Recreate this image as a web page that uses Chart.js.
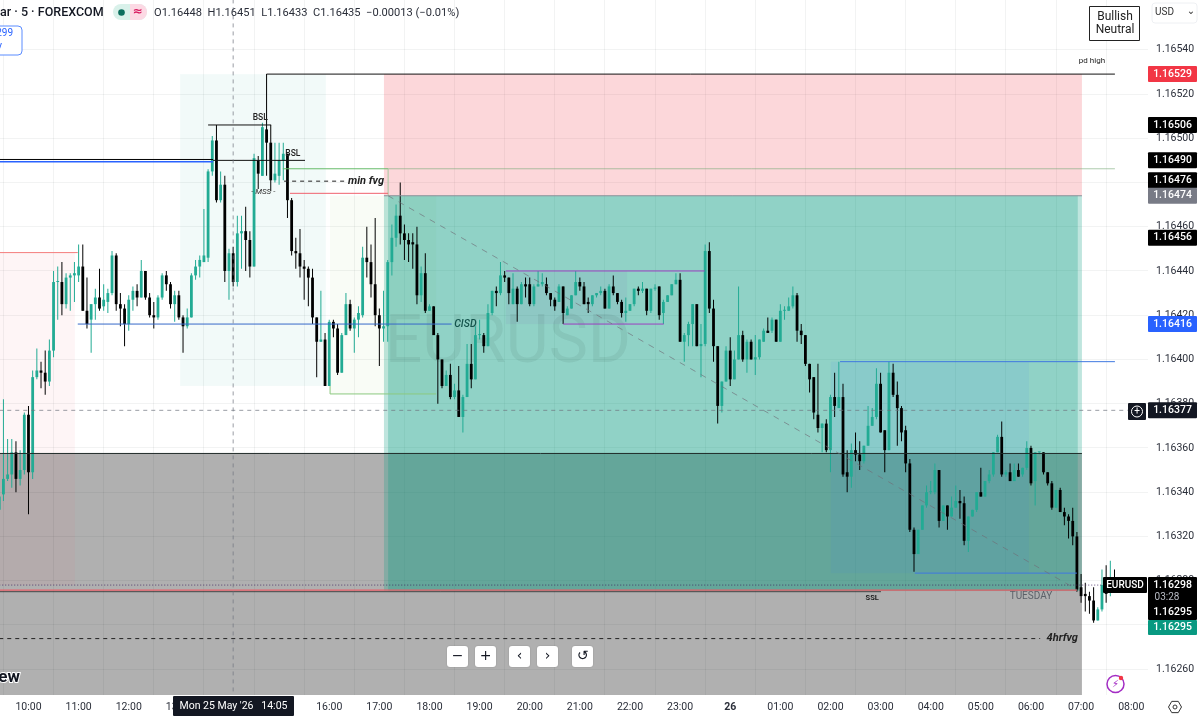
<!DOCTYPE html>
<html>
<head>
<meta charset="utf-8">
<title>EURUSD 5m</title>
<script src="https://cdn.jsdelivr.net/npm/chart.js@4/dist/chart.umd.min.js"></script>
<style>
  html, body { margin: 0; background: #fff; overflow: hidden; }
  canvas { display: block; }
</style>
</head>
<body>
<canvas id="fxChart" width="1200" height="717"></canvas>
<script>
// Bars are numbered from 10:00 on Mon 25 May (bar 0), one bar per 5 minutes
const firstBar = -7;

const opens = [
  1.16332,1.16339,1.16346,1.16348,1.16358,1.16346,1.16350,1.16375,1.16349,1.16392,
  1.16395,1.16394,1.16390,1.16404,1.16435,1.16435,1.16425,1.16437,1.16438,1.16438,
  1.16442,1.16422,1.16418,1.16425,1.16428,1.16424,1.16426,1.16430,1.16447,1.16425,
  1.16423,1.16416,1.16427,1.16431,1.16428,1.16440,1.16428,1.16420,1.16419,1.16428,
  1.16438,1.16434,1.16425,1.16429,1.16419,1.16415,1.16419,1.16438,1.16442,1.16444,
  1.16446,1.16485,1.16499,1.16472,1.16479,1.16440,1.16448,1.16435,1.16457,1.16458,
  1.16454,1.16442,1.16490,1.16483,1.16504,1.16498,1.16481,1.16483,1.16490,1.16493,
  1.16472,1.16449,1.16448,1.16442,1.16441,1.16437,1.16419,1.16408,1.16409,1.16388,
  1.16417,1.16414,1.16394,1.16411,1.16425,1.16414,1.16418,1.16420,1.16446,1.16444,
  1.16434,1.16420,1.16414,1.16415,1.16444,1.16455,1.16465,1.16457,1.16454,1.16453,
  1.16452,1.16429,1.16439,1.16422,1.16424,1.16411,1.16400,1.16388,1.16393,1.16383,
  1.16386,1.16374,1.16383,1.16398,1.16391,1.16411,1.16411,1.16406,1.16421,1.16431,
  1.16430,1.16438,1.16437,1.16425,1.16432,1.16425,1.16434,1.16434,1.16425,1.16433,
  1.16434,1.16434,1.16430,1.16427,1.16426,1.16433,1.16420,1.16423,1.16429,1.16435,
  1.16433,1.16426,1.16425,1.16429,1.16430,1.16431,1.16423,1.16433,1.16430,1.16426,
  1.16421,1.16422,1.16425,1.16432,1.16431,1.16432,1.16422,1.16432,1.16433,1.16421,
  1.16426,1.16429,1.16434,1.16436,1.16408,1.16411,1.16416,1.16425,1.16406,1.16407,
  1.16449,1.16423,1.16406,1.16379,1.16390,1.16404,1.16391,1.16400,1.16411,1.16400,
  1.16408,1.16400,1.16401,1.16408,1.16413,1.16413,1.16418,1.16408,1.16422,1.16422,
  1.16424,1.16429,1.16413,1.16411,1.16398,1.16392,1.16375,1.16369,1.16371,1.16359,
  1.16383,1.16378,1.16383,1.16349,1.16347,1.16359,1.16357,1.16354,1.16361,1.16370,
  1.16374,1.16389,1.16368,1.16359,1.16394,1.16384,1.16378,1.16368,1.16353,1.16323,
  1.16312,1.16323,1.16334,1.16340,1.16340,1.16350,1.16327,1.16334,1.16329,1.16333,
  1.16336,1.16335,1.16318,1.16329,1.16332,1.16340,1.16338,1.16345,1.16348,1.16358,
  1.16365,1.16348,1.16349,1.16345,1.16350,1.16348,1.16351,1.16360,1.16345,1.16358,
  1.16358,1.16349,1.16344,1.16333,1.16341,1.16331,1.16329,1.16327,1.16320,1.16297,
  1.16294,1.16293,1.16291,1.16282,1.16287,1.16299,1.16297,1.16301
];
const highs = [
  1.16339,1.16382,1.16364,1.16364,1.16363,1.16359,1.16376,1.16379,1.16395,1.16405,
  1.16399,1.16404,1.16409,1.16440,1.16442,1.16444,1.16439,1.16439,1.16444,1.16452,
  1.16452,1.16437,1.16425,1.16432,1.16441,1.16434,1.16432,1.16449,1.16448,1.16430,
  1.16425,1.16429,1.16433,1.16434,1.16445,1.16440,1.16430,1.16426,1.16429,1.16439,
  1.16440,1.16435,1.16431,1.16431,1.16420,1.16423,1.16439,1.16445,1.16447,1.16468,
  1.16486,1.16501,1.16506,1.16485,1.16483,1.16450,1.16451,1.16465,1.16465,1.16469,
  1.16458,1.16493,1.16492,1.16507,1.16529,1.16506,1.16498,1.16498,1.16498,1.16493,
  1.16473,1.16455,1.16459,1.16445,1.16442,1.16441,1.16419,1.16431,1.16412,1.16418,
  1.16418,1.16416,1.16412,1.16430,1.16427,1.16419,1.16424,1.16451,1.16460,1.16452,
  1.16464,1.16423,1.16431,1.16445,1.16461,1.16470,1.16480,1.16461,1.16457,1.16457,
  1.16460,1.16442,1.16448,1.16425,1.16424,1.16412,1.16400,1.16395,1.16398,1.16389,
  1.16397,1.16384,1.16407,1.16407,1.16415,1.16418,1.16412,1.16425,1.16431,1.16433,
  1.16444,1.16440,1.16437,1.16439,1.16433,1.16435,1.16437,1.16437,1.16434,1.16440,
  1.16439,1.16437,1.16430,1.16428,1.16434,1.16433,1.16424,1.16429,1.16440,1.16437,
  1.16435,1.16428,1.16429,1.16430,1.16433,1.16432,1.16434,1.16438,1.16430,1.16427,
  1.16428,1.16425,1.16432,1.16433,1.16435,1.16432,1.16432,1.16434,1.16433,1.16427,
  1.16429,1.16434,1.16439,1.16439,1.16412,1.16417,1.16425,1.16425,1.16416,1.16452,
  1.16453,1.16427,1.16406,1.16390,1.16406,1.16410,1.16404,1.16433,1.16413,1.16409,
  1.16409,1.16411,1.16409,1.16414,1.16419,1.16419,1.16418,1.16425,1.16424,1.16428,
  1.16433,1.16430,1.16416,1.16411,1.16398,1.16392,1.16398,1.16371,1.16373,1.16384,
  1.16394,1.16399,1.16389,1.16359,1.16362,1.16367,1.16363,1.16361,1.16379,1.16378,
  1.16396,1.16394,1.16368,1.16399,1.16398,1.16390,1.16379,1.16370,1.16355,1.16324,
  1.16323,1.16334,1.16343,1.16345,1.16353,1.16350,1.16334,1.16334,1.16338,1.16343,
  1.16341,1.16338,1.16329,1.16332,1.16340,1.16351,1.16345,1.16350,1.16358,1.16366,
  1.16372,1.16350,1.16353,1.16353,1.16353,1.16351,1.16363,1.16361,1.16358,1.16358,
  1.16358,1.16349,1.16345,1.16341,1.16342,1.16333,1.16330,1.16333,1.16322,1.16303,
  1.16299,1.16295,1.16297,1.16288,1.16305,1.16307,1.16309,1.16305
];
const lows = [
  1.16331,1.16336,1.16345,1.16342,1.16340,1.16343,1.16348,1.16330,1.16346,1.16391,
  1.16387,1.16384,1.16388,1.16401,1.16418,1.16420,1.16423,1.16422,1.16426,1.16435,
  1.16422,1.16414,1.16403,1.16418,1.16422,1.16422,1.16421,1.16429,1.16422,1.16415,
  1.16406,1.16413,1.16422,1.16424,1.16428,1.16427,1.16419,1.16414,1.16418,1.16427,
  1.16431,1.16423,1.16417,1.16418,1.16403,1.16414,1.16419,1.16436,1.16437,1.16444,
  1.16444,1.16483,1.16471,1.16471,1.16435,1.16427,1.16433,1.16433,1.16441,1.16440,
  1.16437,1.16442,1.16477,1.16483,1.16483,1.16476,1.16480,1.16479,1.16481,1.16464,
  1.16447,1.16441,1.16437,1.16427,1.16424,1.16416,1.16392,1.16408,1.16388,1.16388,
  1.16410,1.16393,1.16394,1.16411,1.16413,1.16403,1.16410,1.16419,1.16437,1.16428,
  1.16415,1.16397,1.16408,1.16408,1.16438,1.16451,1.16452,1.16445,1.16444,1.16441,
  1.16425,1.16426,1.16421,1.16422,1.16411,1.16380,1.16387,1.16388,1.16382,1.16382,
  1.16374,1.16367,1.16383,1.16387,1.16391,1.16409,1.16403,1.16406,1.16420,1.16424,
  1.16429,1.16435,1.16425,1.16425,1.16417,1.16425,1.16428,1.16424,1.16424,1.16433,
  1.16433,1.16429,1.16424,1.16422,1.16426,1.16416,1.16420,1.16423,1.16429,1.16431,
  1.16425,1.16421,1.16424,1.16428,1.16429,1.16423,1.16423,1.16429,1.16425,1.16419,
  1.16417,1.16422,1.16424,1.16429,1.16430,1.16420,1.16421,1.16431,1.16418,1.16416,
  1.16426,1.16429,1.16434,1.16408,1.16399,1.16406,1.16406,1.16406,1.16392,1.16406,
  1.16421,1.16399,1.16371,1.16376,1.16390,1.16388,1.16391,1.16400,1.16399,1.16394,
  1.16400,1.16393,1.16400,1.16408,1.16412,1.16412,1.16408,1.16408,1.16418,1.16422,
  1.16423,1.16408,1.16407,1.16397,1.16385,1.16373,1.16367,1.16358,1.16358,1.16349,
  1.16374,1.16378,1.16347,1.16340,1.16342,1.16354,1.16350,1.16353,1.16361,1.16370,
  1.16373,1.16367,1.16349,1.16359,1.16383,1.16361,1.16363,1.16349,1.16322,1.16304,
  1.16312,1.16323,1.16333,1.16339,1.16339,1.16324,1.16327,1.16323,1.16329,1.16333,
  1.16328,1.16316,1.16313,1.16329,1.16331,1.16338,1.16338,1.16344,1.16347,1.16358,
  1.16347,1.16347,1.16345,1.16345,1.16347,1.16347,1.16350,1.16343,1.16334,1.16357,
  1.16348,1.16343,1.16332,1.16333,1.16331,1.16325,1.16319,1.16316,1.16295,1.16290,
  1.16286,1.16285,1.16281,1.16282,1.16286,1.16290,1.16293,1.16296
];
const closes = [
  1.16338,1.16346,1.16348,1.16358,1.16346,1.16350,1.16375,1.16349,1.16392,1.16395,
  1.16394,1.16390,1.16404,1.16435,1.16435,1.16425,1.16437,1.16438,1.16439,1.16442,
  1.16422,1.16416,1.16425,1.16428,1.16423,1.16427,1.16430,1.16447,1.16425,1.16423,
  1.16416,1.16427,1.16431,1.16428,1.16440,1.16428,1.16420,1.16419,1.16428,1.16438,
  1.16434,1.16425,1.16429,1.16419,1.16415,1.16419,1.16438,1.16442,1.16445,1.16447,
  1.16485,1.16499,1.16472,1.16479,1.16440,1.16448,1.16435,1.16457,1.16458,1.16454,
  1.16442,1.16491,1.16484,1.16505,1.16498,1.16481,1.16484,1.16490,1.16493,1.16472,
  1.16449,1.16448,1.16442,1.16441,1.16437,1.16419,1.16408,1.16409,1.16388,1.16417,
  1.16414,1.16394,1.16411,1.16425,1.16414,1.16418,1.16421,1.16446,1.16444,1.16434,
  1.16420,1.16414,1.16415,1.16444,1.16455,1.16465,1.16457,1.16454,1.16452,1.16452,
  1.16429,1.16439,1.16422,1.16424,1.16411,1.16400,1.16388,1.16393,1.16383,1.16386,
  1.16374,1.16383,1.16398,1.16391,1.16411,1.16411,1.16406,1.16421,1.16431,1.16430,
  1.16438,1.16437,1.16430,1.16432,1.16425,1.16434,1.16433,1.16425,1.16433,1.16434,
  1.16435,1.16430,1.16427,1.16424,1.16433,1.16421,1.16423,1.16429,1.16435,1.16433,
  1.16425,1.16425,1.16429,1.16430,1.16431,1.16423,1.16433,1.16430,1.16426,1.16421,
  1.16422,1.16425,1.16432,1.16431,1.16432,1.16422,1.16432,1.16432,1.16420,1.16426,
  1.16429,1.16434,1.16436,1.16408,1.16411,1.16416,1.16425,1.16406,1.16407,1.16449,
  1.16423,1.16406,1.16379,1.16390,1.16404,1.16391,1.16400,1.16411,1.16400,1.16408,
  1.16400,1.16401,1.16409,1.16413,1.16412,1.16418,1.16408,1.16422,1.16422,1.16424,
  1.16429,1.16413,1.16411,1.16398,1.16391,1.16376,1.16369,1.16371,1.16359,1.16383,
  1.16379,1.16383,1.16348,1.16347,1.16359,1.16357,1.16354,1.16361,1.16370,1.16374,
  1.16389,1.16367,1.16359,1.16394,1.16384,1.16378,1.16367,1.16353,1.16323,1.16312,
  1.16323,1.16334,1.16340,1.16340,1.16350,1.16327,1.16334,1.16329,1.16333,1.16336,
  1.16335,1.16318,1.16329,1.16332,1.16340,1.16338,1.16345,1.16348,1.16358,1.16365,
  1.16348,1.16349,1.16345,1.16350,1.16347,1.16351,1.16360,1.16344,1.16358,1.16358,
  1.16349,1.16344,1.16333,1.16341,1.16331,1.16329,1.16327,1.16320,1.16296,1.16293,
  1.16293,1.16291,1.16282,1.16287,1.16298,1.16294,1.16299,1.16298
];

// Time axis labels, one every 12 bars starting at bar 0
const hourLabels = ["10:00","11:00","12:00","13:00","14:00","15:00","16:00","17:00","18:00","19:00","20:00","21:00","22:00","23:00","26","01:00","02:00","03:00","04:00","05:00","06:00","07:00","08:00"];
const hourBars = [0,12,24,36,48,60,72,84,96,108,120,132,144,156,168,180,192,204,216,228,240,252,264];
const priceTicks = [1.1626,1.1628,1.163,1.1632,1.1634,1.1636,1.1638,1.164,1.1642,1.1644,1.1646,1.1648,1.165,1.1652,1.1654];

const upColor = "#22ab94";
const downColor = "#000000";
const barNumbers = opens.map((_, k) => firstBar + k);
const barColors = opens.map((o, k) => closes[k] >= o ? upColor : downColor);

// Shaded areas: bar range and price range. Order matters, grey sits under the green.
const zones = [
  { from: -7, to: 252.2, top: 1.163575, bottom: 1.1624, color: "rgba(0,0,0,0.31)" },
  { from: -7, to: 11.1, top: 1.164483, bottom: 1.16298, color: "rgba(242,54,69,0.05)" },
  { from: 36.3, to: 71.2, top: 1.16529, bottom: 1.16388, color: "rgba(0,150,136,0.05)" },
  { from: 72.2, to: 97.6, top: 1.16474, bottom: 1.163844, color: "rgba(139,195,74,0.05)" },
  { from: 85.1, to: 252.2, top: 1.16529, bottom: 1.16474, color: "rgba(242,54,69,0.2)" },
  { from: 85.1, to: 252.2, top: 1.16474, bottom: 1.162953, color: "rgba(8,153,129,0.26)" },
  { from: 86.1, to: 251.2, top: 1.16474, bottom: 1.162953, color: "rgba(8,153,129,0.26)" },
  { from: 192.1, to: 239.5, top: 1.16399, bottom: 1.163034, color: "rgba(41,98,255,0.07)" },
  { from: 114.3, to: 143.3, top: 1.1644, bottom: 1.16416, color: "rgba(120,100,180,0.09)" }
];

// Drawn lines: from/to bars and prices
const lines = [
  { x1: 85.1, p1: 1.16474, x2: 252.2, p2: 1.16474, color: "#8a8f98", width: 1 },
  { x1: -7, p1: 1.163575, x2: 252.2, p2: 1.163575, color: "#1f2a28", width: 1 },
  { x1: -7, p1: 1.164483, x2: 11.8, p2: 1.164483, color: "#f47c7c", width: 1 },
  { x1: -7, p1: 1.164894, x2: 44.2, p2: 1.164894, color: "#2962ff", width: 1.5 },
  { x1: -7, p1: 1.164904, x2: 44.2, p2: 1.164904, color: "#000000", width: 1 },
  { x1: 44.2, p1: 1.1649, x2: 66.2, p2: 1.1649, color: "#111111", width: 1 },
  { x1: 43, p1: 1.16506, x2: 58.1, p2: 1.16506, color: "#111111", width: 1 },
  { x1: 57, p1: 1.16529, x2: 260.1, p2: 1.16529, color: "#111111", width: 1 },
  { x1: 60.9, p1: 1.164862, x2: 86.1, p2: 1.164862, color: "#66bb6a", width: 1 },
  { x1: 86.1, p1: 1.164862, x2: 260.1, p2: 1.164862, color: "rgba(120,170,120,0.6)", width: 1 },
  { x1: 86.1, p1: 1.164862, x2: 86.1, p2: 1.16474, color: "#a5c7a0", width: 1 },
  { x1: 62.6, p1: 1.164751, x2: 86.1, p2: 1.164751, color: "#f0606c", width: 1 },
  { x1: 11.8, p1: 1.16416, x2: 101.3, p2: 1.16416, color: "#3568c8", width: 1 },
  { x1: 72.2, p1: 1.163844, x2: 97.6, p2: 1.163844, color: "#8cc97f", width: 1 },
  { x1: 72.2, p1: 1.16388, x2: 72.2, p2: 1.163844, color: "#8cc97f", width: 1 },
  { x1: 114.3, p1: 1.1644, x2: 161.9, p2: 1.1644, color: "#9c3fc0", width: 1 },
  { x1: 128, p1: 1.16416, x2: 152.1, p2: 1.16416, color: "#9c3fc0", width: 1 },
  { x1: 194.3, p1: 1.16399, x2: 260.1, p2: 1.16399, color: "#3f78e0", width: 1 },
  { x1: 212.2, p1: 1.163034, x2: 251, p2: 1.163034, color: "#3f78e0", width: 1 },
  { x1: -7, p1: 1.16295, x2: 204.1, p2: 1.16295, color: "#2a2a2a", width: 0.8 },
  { x1: -7, p1: 1.162957, x2: 251, p2: 1.162957, color: "#e8606a", width: 1.2 },
  { x1: 61.2, p1: 1.164806, x2: 75.8, p2: 1.164806, color: "#222222", width: 1, dash: [4, 4] },
  { x1: -7, p1: 1.162738, x2: 242.2, p2: 1.162738, color: "#222222", width: 1, dash: [4, 4] },
  { x1: 86.1, p1: 1.16474, x2: 251, p2: 1.16296, color: "rgba(110,110,120,0.65)", width: 1, dash: [6, 6] },
  { x1: -7, p1: 1.16298, x2: 257.7, p2: 1.16298, color: "rgba(60,30,90,0.8)", width: 1, dash: [1, 2] },
  { x1: -7, p1: 1.16377, x2: 263.2, p2: 1.16377, color: "rgba(110,115,125,0.7)", width: 1, dash: [4, 4] },
  { x1: 49, p1: 1.1657, x2: 49, p2: 1.1624, color: "rgba(110,115,125,0.7)", width: 1, dash: [4, 4] }
];

// Text stuck on the chart at a bar and a price
const notes = [
  { text: "BSL", bar: 55.5, price: 1.16509, font: "500 8.5px Roboto", color: "#222" },
  { text: "BSL", bar: 63.3, price: 1.16493, font: "500 8.5px Roboto", color: "#222" },
  { text: "- MSS -", bar: 56.2, price: 1.164755, font: "italic 8px Roboto", color: "#333" },
  { text: "min fvg", bar: 80.8, price: 1.164806, font: "italic 700 11px Roboto", color: "#222" },
  { text: "CISD", bar: 104.6, price: 1.16416, font: "italic 500 10.5px Roboto", color: "#14544c" },
  { text: "pd high", bar: 254.6, price: 1.16535, font: "8px Roboto", color: "#222" },
  { text: "SSL", bar: 202, price: 1.16292, font: "700 7.5px Roboto", color: "#222" },
  { text: "TUESDAY", bar: 240, price: 1.16293, font: "10px Roboto", color: "#5c6068" },
  { text: "4hrfvg", bar: 247.5, price: 1.162738, font: "italic 700 11px Roboto", color: "#222" }
];

// Price tags on the axis, at = where the tag sits once the stack has spread out
const priceTags = [
  { text: "1.16529", at: 1.16529, bg: "#f23645" },
  { text: "1.16506", at: 1.16506, bg: "#000000" },
  { text: "1.16490", at: 1.16490, bg: "#000000" },
  { text: "1.16476", at: 1.16481, bg: "#000000" },
  { text: "1.16474", at: 1.16474, bg: "#787b86" },
  { text: "1.16456", at: 1.16455, bg: "#000000" },
  { text: "1.16416", at: 1.16416, bg: "#2962ff" },
  { text: "1.16377", at: 1.16377, bg: "#131722" }
];

function roundBox(ctx, x, y, w, h, r, fill, stroke) {
  ctx.beginPath();
  ctx.roundRect(x, y, w, h, r);
  if (fill) { ctx.fillStyle = fill; ctx.fill(); }
  if (stroke) { ctx.strokeStyle = stroke; ctx.lineWidth = 1; ctx.stroke(); }
}

function label(ctx, text, x, y, font, color, align) {
  ctx.font = font;
  ctx.fillStyle = color;
  ctx.textAlign = align || "center";
  ctx.textBaseline = "middle";
  ctx.fillText(text, x, y);
}

const zonePlugin = {
  id: "zones",
  beforeDatasetsDraw(chart) {
    const { ctx, chartArea, scales: { x, y } } = chart;
    ctx.save();
    ctx.beginPath();
    ctx.rect(chartArea.left, chartArea.top, chartArea.width, chartArea.height);
    ctx.clip();
    zones.forEach(z => {
      ctx.fillStyle = z.color;
      const left = x.getPixelForValue(z.from), top = y.getPixelForValue(z.top);
      ctx.fillRect(left, top, x.getPixelForValue(z.to) - left, y.getPixelForValue(z.bottom) - top);
    });
    // Symbol watermark
    label(ctx, "EURUSD", 508, 345, "66px Roboto", "rgba(19,23,34,0.07)");
    ctx.restore();
  }
};

const overlayPlugin = {
  id: "overlay",
  afterDatasetsDraw(chart) {
    const { ctx, chartArea, scales: { x, y } } = chart;
    ctx.save();
    ctx.beginPath();
    ctx.rect(chartArea.left, chartArea.top, chartArea.width, chartArea.height);
    ctx.clip();
    lines.forEach(l => {
      ctx.beginPath();
      ctx.strokeStyle = l.color;
      ctx.lineWidth = l.width;
      ctx.setLineDash(l.dash || []);
      ctx.moveTo(x.getPixelForValue(l.x1), y.getPixelForValue(l.p1));
      ctx.lineTo(x.getPixelForValue(l.x2), y.getPixelForValue(l.p2));
      ctx.stroke();
    });
    ctx.setLineDash([]);
    notes.forEach(n => label(ctx, n.text, x.getPixelForValue(n.bar), y.getPixelForValue(n.price), n.font, n.color));
    ctx.restore();

    // Header row
    label(ctx, "ar · 5 · FOREXCOM", 0, 13, "500 12.5px Roboto", "#131722", "left");
    roundBox(ctx, 113, 4, 34, 16, 8, "#d9f1ea");
    ctx.beginPath();
    ctx.roundRect(130, 4, 17, 16, [0, 8, 8, 0]);
    ctx.fillStyle = "#fcd9e4";
    ctx.fill();
    ctx.beginPath();
    ctx.arc(121.5, 12.5, 3.3, 0, Math.PI * 2);
    ctx.fillStyle = "#0b6e5d";
    ctx.fill();
    label(ctx, "≈", 137.5, 12, "700 12px 'DejaVu Sans'", "#d81b60");
    label(ctx, "O1.16448  H1.16451  L1.16433  C1.16435  −0.00013 (−0.01%)", 154, 13, "11.1px Roboto", "#2a2e39", "left");

    // Blue box cut off on the left edge
    roundBox(ctx, -12, 26, 34, 29, 4, "#ffffff", "#5b8cff");
    label(ctx, "299", 13, 33, "10px Roboto", "#2962ff", "right");
    label(ctx, "y", 2, 46, "10px Roboto", "#2962ff", "right");

    // Bias box
    roundBox(ctx, 1089.5, 6.5, 50, 34, 0, "#ffffff", "#222222");
    label(ctx, "Bullish", 1115, 16.5, "12px Roboto", "#222");
    label(ctx, "Neutral", 1115, 29.5, "12px Roboto", "#222");

    // Currency selector
    roundBox(ctx, 1152, 3, 45, 20, 3, "#ffffff", "#eef0f3");
    label(ctx, "USD", 1155, 12.5, "10px Roboto", "#333", "left");
    label(ctx, "⌄", 1191, 11, "10px 'DejaVu Sans'", "#333");

    // Price tags
    priceTags.forEach(t => {
      const ty = y.getPixelForValue(t.at);
      roundBox(ctx, 1148, ty - 8, 49, 16, 1, t.bg);
      label(ctx, t.text, 1172.5, ty, "500 10.5px Roboto", "#ffffff");
    });
    roundBox(ctx, 1128, 403, 18, 17, 1, "#131722");
    ctx.beginPath();
    ctx.arc(1137, 411.5, 5.5, 0, Math.PI * 2);
    ctx.strokeStyle = "#ffffff";
    ctx.lineWidth = 1;
    ctx.stroke();
    label(ctx, "+", 1137, 411, "10px Roboto", "#ffffff");

    // Live price block
    roundBox(ctx, 1103, 577, 44, 16, 1, "#000000");
    label(ctx, "EURUSD", 1125, 585, "500 10px Roboto", "#ffffff");
    roundBox(ctx, 1148, 577, 49, 43, 1, "#000000");
    label(ctx, "1.16298", 1172.5, 585, "500 10.5px Roboto", "#ffffff");
    label(ctx, "03:28", 1167, 597, "10px Roboto", "#b8bbc4");
    label(ctx, "1.16295", 1172.5, 612, "500 10.5px Roboto", "#ffffff");
    roundBox(ctx, 1148, 620, 49, 15, 1, "#089981");
    label(ctx, "1.16295", 1172.5, 627.5, "500 10.5px Roboto", "#ffffff");

    // Crosshair time tag
    roundBox(ctx, 173, 696, 121, 20, 1, "#131722");
    label(ctx, "Mon 25 May '26   14:05", 233.5, 706.5, "10.5px Roboto", "#ffffff");

    // Zoom and scroll buttons
    [[447, "−"], [475, "+"], [509, "‹"], [537, "›"], [572, "↺"]].forEach(b => {
      ctx.shadowColor = "rgba(0,0,0,0.2)";
      ctx.shadowBlur = 2;
      roundBox(ctx, b[0], 646, 21, 21, 3, "#ffffff");
      ctx.shadowColor = "transparent";
      ctx.shadowBlur = 0;
      label(ctx, b[1], b[0] + 10.5, 656, "14px 'DejaVu Sans'", "#131722");
    });

    // Logo tail, white halo
    ctx.font = "700 17px Roboto";
    ctx.textAlign = "right";
    ctx.textBaseline = "middle";
    ctx.lineWidth = 2;
    ctx.strokeStyle = "#ffffff";
    ctx.strokeText("ew", 20, 678);
    ctx.fillStyle = "#131722";
    ctx.fillText("ew", 20, 678);

    // Power icon with red dot
    ctx.beginPath();
    ctx.arc(1115.5, 684, 8.5, 0, Math.PI * 2);
    ctx.strokeStyle = "#a32cc4";
    ctx.lineWidth = 1.5;
    ctx.stroke();
    label(ctx, "⚡", 1115.5, 684, "10px 'DejaVu Sans'", "#a32cc4");
    ctx.beginPath();
    ctx.arc(1121, 678, 2.2, 0, Math.PI * 2);
    ctx.fillStyle = "#f23645";
    ctx.fill();

    // Settings gear
    ctx.beginPath();
    for (let k = 0; k < 6; k++) {
      const a = Math.PI / 3 * k;
      ctx.lineTo(1175 + 6.5 * Math.cos(a), 707 + 6.5 * Math.sin(a));
    }
    ctx.closePath();
    ctx.strokeStyle = "#333";
    ctx.lineWidth = 1;
    ctx.stroke();
    ctx.beginPath();
    ctx.arc(1175, 707, 2, 0, Math.PI * 2);
    ctx.stroke();
  }
};

const fxChart = new Chart(document.getElementById("fxChart").getContext("2d"), {
  type: "bar",
  data: {
    datasets: [
      {
        label: "Bodies",
        data: barNumbers.map((n, k) => ({ x: n, y: [Math.min(opens[k], closes[k]), Math.max(opens[k], closes[k])] })),
        backgroundColor: barColors,
        barThickness: 2.8,
        minBarLength: 1,
        grouped: false,
        inflateAmount: 0,
        order: 1
      },
      {
        label: "Wicks",
        data: barNumbers.map((n, k) => ({ x: n, y: [lows[k], highs[k]] })),
        backgroundColor: barColors,
        barThickness: 1,
        grouped: false,
        inflateAmount: 0,
        order: 2
      }
    ]
  },
  options: {
    responsive: false,
    animation: false,
    layout: { padding: 0 },
    plugins: { legend: { display: false }, tooltip: { enabled: false } },
    scales: {
      x: {
        type: "linear",
        min: -6.82,
        max: 268.02,
        offset: false,
        afterBuildTicks(scale) { scale.ticks = hourBars.map(v => ({ value: v })); },
        afterFit(scale) { scale.height = 22; scale.paddingLeft = 0; scale.paddingRight = 0; },
        grid: { color: "rgba(42,46,57,0.06)", drawTicks: false },
        border: { display: false },
        ticks: {
          autoSkip: false,
          maxRotation: 0,
          minRotation: 0,
          padding: 6,
          color: "#2a2e39",
          font: c => ({ family: "Roboto", size: 10.5, weight: c.tick && c.tick.value === 168 ? "700" : "400" }),
          callback: v => hourLabels[hourBars.indexOf(v)]
        }
      },
      y: {
        position: "right",
        min: 1.162483,
        max: 1.165625,
        afterBuildTicks(scale) { scale.ticks = priceTicks.map(v => ({ value: v })); },
        afterFit(scale) { scale.width = 52; scale.paddingTop = 0; scale.paddingBottom = 0; },
        grid: { color: "rgba(42,46,57,0.06)", drawTicks: false },
        border: { display: false },
        ticks: {
          padding: 8,
          color: "#2a2e39",
          font: { family: "Roboto", size: 10.5 },
          callback: v => v.toFixed(5)
        }
      }
    }
  },
  plugins: [zonePlugin, overlayPlugin]
});
</script>
</body>
</html>
